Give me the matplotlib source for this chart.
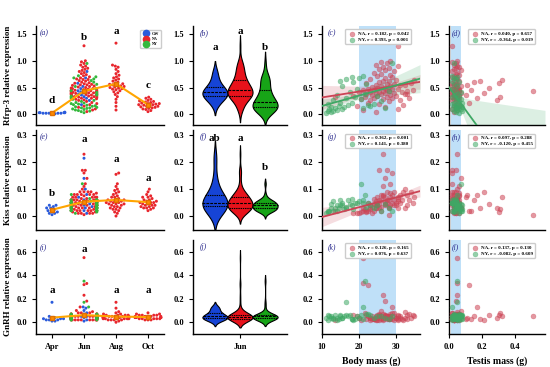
import warnings
import numpy as np
import pandas as pd
import matplotlib
matplotlib.use("Agg")
import matplotlib.pyplot as plt
from matplotlib.lines import Line2D
import seaborn as sns

warnings.filterwarnings("ignore")

months = ["Apr", "Jun", "Aug", "Oct"]
sites = ["GW", "NA", "NY"]

# ---- Rfrp-3 ----
rfrp_apr_gw = [0.03, 0.02, 0.01, 0.03, 0.02, 0.04, 0.02, 0.01, 0.03, 0.02, 0.03, 0.02]
rfrp_jun_gw = [0.18, 0.26, 0.30, 0.33, 0.36, 0.38, 0.40, 0.42, 0.44, 0.48, 0.52, 0.58, 0.68, 0.80]
rfrp_jun_na = [0.05, 0.08, 0.10, 0.13, 0.15, 0.18, 0.20, 0.22, 0.24, 0.26,
               0.27, 0.28, 0.29, 0.30, 0.30, 0.31, 0.32, 0.33, 0.34, 0.34,
               0.35, 0.36, 0.36, 0.37, 0.38, 0.38, 0.39, 0.40, 0.40, 0.41,
               0.41, 0.42, 0.42, 0.43, 0.43, 0.44, 0.45, 0.45, 0.46, 0.47,
               0.48, 0.48, 0.49, 0.50, 0.51, 0.52, 0.53, 0.54, 0.55, 0.56,
               0.57, 0.58, 0.59, 0.60, 0.62, 0.63, 0.65, 0.66, 0.68, 0.70,
               0.72, 0.74, 0.76, 0.78, 0.80, 0.82, 0.84, 0.86, 0.88, 0.90,
               0.92, 0.95, 0.98, 1.00, 0.65, 0.55, 0.45, 0.38, 0.33, 1.28]
rfrp_jun_ny = [0.03, 0.05, 0.06, 0.07, 0.08, 0.09, 0.10, 0.11, 0.12, 0.13,
               0.14, 0.15, 0.16, 0.17, 0.18, 0.19, 0.20, 0.21, 0.22, 0.24,
               0.26, 0.28, 0.30, 0.32, 0.34, 0.36, 0.38, 0.41, 0.44, 0.48,
               0.52, 0.56, 0.60, 0.63, 0.66, 0.68, 0.70, 0.72, 0.95, 0.12]
rfrp_aug_na = [0.08, 0.15, 0.22, 0.28, 0.33, 0.37, 0.40, 0.42, 0.44, 0.46,
               0.47, 0.48, 0.49, 0.50, 0.51, 0.52, 0.53, 0.54, 0.55, 0.56,
               0.57, 0.58, 0.60, 0.62, 0.64, 0.66, 0.68, 0.70, 0.73, 0.76,
               0.80, 0.84, 0.88, 0.90, 0.92, 1.33]
rfrp_oct_na = [0.05, 0.07, 0.09, 0.10, 0.11, 0.12, 0.13, 0.14, 0.15, 0.15,
               0.16, 0.17, 0.18, 0.18, 0.19, 0.20, 0.20, 0.21, 0.22, 0.23,
               0.24, 0.25, 0.26, 0.28, 0.30, 0.32]

# ---- Kiss ----
kiss_apr_gw = [0.005, 0.01, 0.02, 0.03, 0.035, 0.04, 0.02, 0.015, 0.01, 0.025, 0.03, 0.04]
kiss_jun_gw = [0.01, 0.02, 0.03, 0.035, 0.04, 0.045, 0.05, 0.05, 0.06, 0.07, 0.08, 0.10, 0.14, 0.215]
kiss_jun_na = [0.04, 0.02, 0.07, 0.05, 0.01, 0.09, 0.03, 0.02, 0.06, 0.05,
               0.03, 0.23, 0.015, 0.08, 0.06, 0.045, 0.17, 0.025, 0.04, 0.05,
               0.01, 0.07, 0.035, 0.06, 0.10, 0.02, 0.04, 0.09, 0.03, 0.01,
               0.06, 0.17, 0.04, 0.005, 0.08, 0.04, 0.03, 0.06, 0.02, 0.16,
               0.05, 0.03, 0.07, 0.045, 0.01, 0.12, 0.035, 0.08, 0.055, 0.04,
               0.09, 0.015, 0.09, 0.06, 0.03, 0.11, 0.05, 0.025, 0.07, 0.05,
               0.04, 0.085, 0.02, 0.065, 0.06, 0.14, 0.045, 0.035, 0.075, 0.055,
               0.03, 0.05, 0.08, 0.04, 0.07, 0.03, 0.05, 0.08, 0.02, 0.065]
kiss_jun_ny = [0.01, 0.03, 0.02, 0.015, 0.04, 0.02, 0.05, 0.03, 0.06, 0.025,
               0.045, 0.04, 0.03, 0.06, 0.05, 0.02, 0.03, 0.04, 0.065, 0.02,
               0.055, 0.12, 0.035, 0.05, 0.04, 0.02, 0.08, 0.045, 0.03, 0.05,
               0.04, 0.035, 0.025, 0.06, 0.03, 0.055, 0.04, 0.05, 0.02, 0.045]
kiss_aug_na = [0.0, 0.01, 0.02, 0.025, 0.03, 0.03, 0.035, 0.04, 0.04, 0.045,
               0.045, 0.05, 0.05, 0.05, 0.055, 0.055, 0.06, 0.06, 0.065, 0.07,
               0.07, 0.075, 0.08, 0.085, 0.09, 0.095, 0.10, 0.11, 0.12, 0.16,
               0.155, 0.035, 0.025, 0.06, 0.045, 0.015]
kiss_oct_na = [0.02, 0.025, 0.03, 0.03, 0.035, 0.035, 0.04, 0.04, 0.04, 0.045,
               0.045, 0.05, 0.05, 0.05, 0.055, 0.055, 0.06, 0.06, 0.065, 0.07,
               0.07, 0.075, 0.08, 0.09, 0.10, 0.03]

# ---- GnRH ----
gnrh_apr_gw = [0.01, 0.02, 0.03, 0.03, 0.04, 0.02, 0.01, 0.03, 0.05, 0.04, 0.02, 0.17]
gnrh_jun_gw = [0.01, 0.02, 0.03, 0.03, 0.04, 0.04, 0.05, 0.05, 0.06, 0.07, 0.08, 0.10, 0.12, 0.13]
gnrh_jun_na = [0.04, 0.55, 0.03, 0.18, 0.05, 0.02, 0.06, 0.32, 0.03, 0.05,
               0.04, 0.23, 0.02, 0.13, 0.07, 0.03, 0.05, 0.08, 0.04, 0.02,
               0.06, 0.03, 0.05, 0.04, 0.09, 0.03, 0.06, 0.02, 0.05, 0.04,
               0.03, 0.07, 0.04, 0.05, 0.02, 0.06, 0.33, 0.04, 0.03, 0.08,
               0.05, 0.02, 0.04, 0.06, 0.03, 0.05, 0.10, 0.04, 0.02, 0.05,
               0.03, 0.06, 0.04, 0.05, 0.03, 0.07, 0.04, 0.02, 0.05, 0.03,
               0.06, 0.04, 0.05, 0.03, 0.08, 0.04, 0.02, 0.05, 0.03, 0.06,
               0.04, 0.05, 0.03, 0.07, 0.05, 0.04, 0.06, 0.03, 0.02, 0.05]
gnrh_jun_ny = [0.04, 0.05, 0.03, 0.06, 0.02, 0.05, 0.04, 0.06, 0.03, 0.05,
               0.04, 0.06, 0.03, 0.05, 0.07, 0.02, 0.04, 0.06, 0.03, 0.05,
               0.04, 0.06, 0.17, 0.03, 0.05, 0.04, 0.35, 0.06, 0.03, 0.05,
               0.04, 0.07, 0.02, 0.05, 0.06, 0.04, 0.03, 0.13, 0.05, 0.04]
gnrh_aug_na = [0.0, 0.01, 0.02, 0.02, 0.03, 0.03, 0.03, 0.04, 0.04, 0.04,
               0.04, 0.05, 0.05, 0.05, 0.05, 0.06, 0.06, 0.06, 0.07, 0.07,
               0.08, 0.09, 0.12, 0.17, 0.03, 0.04, 0.05, 0.02, 0.03, 0.04,
               0.05, 0.06, 0.02, 0.03, 0.04, 0.05]
gnrh_oct_na = [0.02, 0.02, 0.03, 0.03, 0.03, 0.03, 0.04, 0.04, 0.04, 0.04,
               0.04, 0.05, 0.05, 0.05, 0.05, 0.06, 0.06, 0.06, 0.07, 0.07,
               0.08, 0.03, 0.04, 0.05, 0.02, 0.06]

# ---- body / testis mass of the June animals ----
na_body = [24.5, 21.0, 30.5, 27.0, 19.5, 32.0, 25.5, 22.5, 28.0, 31.0,
           23.0, 26.5, 20.5, 29.0, 33.5, 24.0, 27.5, 21.5, 30.0, 25.0,
           18.5, 28.5, 23.5, 26.0, 32.5, 22.0, 27.0, 29.5, 24.5, 20.0,
           31.5, 25.5, 23.0, 28.0, 26.5, 33.0, 21.0, 27.5, 24.0, 29.0,
           22.5, 30.5, 25.0, 27.0, 23.5, 28.5, 26.0, 31.0, 24.5, 29.5,
           27.5, 22.0, 34.0, 25.5, 28.0, 26.5, 30.0, 23.0, 27.0, 29.0,
           25.0, 28.5, 26.0, 24.0, 29.5, 27.0, 25.5, 28.0, 26.5, 30.5,
           24.5, 27.5, 26.0, 28.5, 35.0, 32.5, 34.5, 33.0, 13.5, 30.5]
na_testis = [0.03, 0.05, 0.02, 0.04, 0.06, 0.03, 0.05, 0.12, 0.04, 0.02,
             0.29, 0.05, 0.03, 0.17, 0.06, 0.04, 0.02, 0.31, 0.05, 0.03,
             0.04, 0.10, 0.06, 0.03, 0.05, 0.02, 0.04, 0.21, 0.07, 0.03,
             0.05, 0.04, 0.02, 0.51, 0.06, 0.03, 0.05, 0.04, 0.13, 0.02,
             0.06, 0.03, 0.05, 0.24, 0.04, 0.02, 0.07, 0.11, 0.03, 0.05,
             0.04, 0.30, 0.02, 0.15, 0.19, 0.06, 0.03, 0.05, 0.04, 0.02,
             0.03, 0.06, 0.04, 0.05, 0.02, 0.07, 0.03, 0.04, 0.06, 0.05,
             0.03, 0.04, 0.02, 0.05, 0.32, 0.04, 0.06, 0.03, 0.05, 0.02]
ny_body = [11.0, 12.5, 13.0, 11.5, 14.0, 12.0, 15.5, 13.5, 21.0, 16.0,
           12.5, 23.0, 14.5, 17.0, 22.5, 11.5, 24.0, 15.0, 18.0, 26.0,
           13.0, 20.5, 16.5, 19.0, 25.0, 14.0, 21.5, 17.5, 28.0, 19.5,
           15.5, 22.0, 18.5, 15.0, 16.5, 20.0, 18.0, 21.0, 29.0, 27.0]
ny_testis = [0.06, 0.04, 0.08, 0.03, 0.05, 0.07, 0.02, 0.06, 0.04, 0.08,
             0.05, 0.03, 0.07, 0.04, 0.06, 0.02, 0.05, 0.08, 0.03, 0.06,
             0.04, 0.07, 0.05, 0.02, 0.06, 0.03, 0.05, 0.07, 0.04, 0.02,
             0.05, 0.03, 0.06, 0.02, 0.04, 0.03, 0.05, 0.02, 0.03, 0.04]

gene_labels = ["Rfrp-3 relative expression", "Kiss relative expression", "GnRH relative expression"]
panel_tags = [["(a)", "(b)", "(c)", "(d)"], ["(e)", "(f)", "(g)", "(h)"], ["(i)", "(j)", "(k)", "(l)"]]
swarm_letters = [[("d", 0.26), ("b", 1.44), ("a", 1.54), ("c", 0.54)],
                 [("b", 0.085), ("a", 0.285), ("a", 0.21), ("a", 0.14)],
                 [("a", 0.27), ("a", 0.62), ("a", 0.27), ("a", 0.27)]]
violin_letters = [[("a", 1.24), ("a", 1.54), ("b", 1.24)],
                  [("ab", 0.29), ("a", 0.29), ("b", 0.18)],
                  []]
body_stats = [["NA, r = 0.182, p = 0.042", "NY, r = 0.393, p = 0.001"],
              ["NA, r = 0.362, p = 0.001", "NY, r = 0.141, p = 0.380"],
              ["NA, r = 0.126, p = 0.165", "NY, r = 0.076, p = 0.637"]]
testis_stats = [["NA, r = 0.040, p = 0.657", "NY, r = -0.364, p = 0.019"],
                ["NA, r = 0.097, p = 0.288", "NY, r = -0.120, p = 0.455"],
                ["NA, r = 0.137, p = 0.130", "NY, r = -0.082, p = 0.609"]]
# which fitted lines are drawn: (row, col) -> sites
fits = {(0, 2): ["NA", "NY"], (0, 3): ["NY"], (1, 2): ["NA"]}

site_colors = {"GW": "#2a5bdc", "NA": "#e8262d", "NY": "#34b83c"}
violin_colors = {"GW": "#1644d6", "NA": "#e8121b", "NY": "#17a417"}
sc_colors = {"NA": "#cc4455", "NY": "#3fa865"}
shade = "#bfe0f8"

plt.rcParams.update({
    "font.family": "serif",
    "font.serif": ["Liberation Serif", "DejaVu Serif"],
    "font.weight": "bold",
    "axes.labelweight": "bold",
    "axes.linewidth": 1.0,
    "xtick.labelsize": 6,
    "ytick.labelsize": 6,
    "xtick.major.size": 3,
    "ytick.major.size": 3,
    "xtick.major.width": 0.8,
    "ytick.major.width": 0.8,
})


def frame(apr_gw, jun_gw, jun_na, jun_ny, aug_na, oct_na):
    parts = [("Apr", "GW", apr_gw), ("Jun", "GW", jun_gw), ("Jun", "NA", jun_na),
             ("Jun", "NY", jun_ny), ("Aug", "NA", aug_na), ("Oct", "NA", oct_na)]
    recs = [(m, s, v) for m, s, vals in parts for v in vals]
    return pd.DataFrame(recs, columns=["month", "site", "value"])


genes = [
    frame(rfrp_apr_gw, rfrp_jun_gw, rfrp_jun_na, rfrp_jun_ny, rfrp_aug_na, rfrp_oct_na),
    frame(kiss_apr_gw, kiss_jun_gw, kiss_jun_na, kiss_jun_ny, kiss_aug_na, kiss_oct_na),
    frame(gnrh_apr_gw, gnrh_jun_gw, gnrh_jun_na, gnrh_jun_ny, gnrh_aug_na, gnrh_oct_na),
]
june_na = [rfrp_jun_na, kiss_jun_na, gnrh_jun_na]
june_ny = [rfrp_jun_ny, kiss_jun_ny, gnrh_jun_ny]

ylims = [(-0.2, 1.65), (-0.052, 0.32), (-0.1, 0.7)]
yticks = [[0, 0.5, 1.0, 1.5], [0, 0.1, 0.2, 0.3], [0, 0.2, 0.4, 0.6]]

W, H = 550, 367
col_px = [(36, 164), (193, 287), (322, 420), (449, 545)]
row_px = [(26, 125), (130, 230), (240, 334)]


def rect(c, r):
    l, rr = col_px[c]
    t, b = row_px[r]
    return [l / W, 1 - b / H, (rr - l) / W, (b - t) / H]


def swarm(ax, df, diam=3.0, half=0.4):
    """simple beeswarm in pixel space, overflowing points go to the gutters"""
    t = ax.transData
    ux = t.transform((1, 0))[0] - t.transform((0, 0))[0]
    vals = df["value"].to_numpy(float)
    cats = df["month"].to_numpy()
    xpos = np.zeros(len(df))
    for i, m in enumerate(months):
        idx = np.where(cats == m)[0]
        py = t.transform(np.column_stack([np.full(len(idx), i), vals[idx]]))[:, 1]
        px_placed, py_placed = [], []
        offs = np.zeros(len(idx))
        for j in np.argsort(py, kind="stable"):
            y = py[j]
            pxa = np.array(px_placed)
            pya = np.array(py_placed)
            cands = [0.0]
            if len(pxa):
                near = np.abs(pya - y) < diam
                dx = np.sqrt(diam ** 2 - (pya[near] - y) ** 2)
                cands += list(pxa[near] + dx) + list(pxa[near] - dx)
                nx, ny = pxa[near], pya[near]
            else:
                nx = ny = np.array([])
            cands = sorted(cands, key=lambda v: (abs(v), -v))
            best = cands[-1]
            for cnd in cands:
                if len(nx) == 0 or np.all((nx - cnd) ** 2 + (ny - y) ** 2 >= diam ** 2 - 1e-6):
                    best = cnd
                    break
            px_placed.append(best)
            py_placed.append(y)
            offs[j] = best
        offs = np.clip(offs, -half * ux, half * ux)
        xpos[idx] = i + offs / ux
    cols = [site_colors[s] for s in df["site"]]
    ax.scatter(xpos, vals, c=cols, s=(diam * 0.72) ** 2, lw=0, zorder=3)


def fit_band(ax, x, y, color, xlim):
    x = np.asarray(x, float)
    y = np.asarray(y, float)
    n = len(x)
    slope, icpt = np.polyfit(x, y, 1)
    xs = np.linspace(xlim[0], xlim[1], 100)
    yh = icpt + slope * xs
    s = np.sqrt(np.sum((y - (icpt + slope * x)) ** 2) / (n - 2))
    se = s * np.sqrt(1 / n + (xs - x.mean()) ** 2 / np.sum((x - x.mean()) ** 2))
    ax.fill_between(xs, yh - 1.98 * se, yh + 1.98 * se, color=color, alpha=0.18, lw=0, zorder=2)
    ax.plot(xs, yh, color=color, lw=1.3, zorder=4)


fig = plt.figure(figsize=(5.5, 3.67), dpi=100)
tag_x = [0.03, 0.07, 0.06, 0.03]

for r in range(3):
    df = genes[r]
    axes = [fig.add_axes(rect(c, r)) for c in range(4)]
    for ax in axes:
        ax.set_ylim(*ylims[r])

    # month swarm
    ax = axes[0]
    ax.set_xlim(-0.5, 3.5)
    swarm(ax, df)
    means = df.groupby("month")["value"].mean().reindex(months)
    ax.plot(range(len(months)), means.values, color="#ffa500", lw=1.5,
            marker="s", ms=3, mfc="#ff8c00", mec="#e07000", zorder=5)
    ax.set_xticks(range(len(months)))
    ax.set_xticklabels(months)
    for i, (txt, yy) in enumerate(swarm_letters[r]):
        ax.text(i, yy, txt, ha="center", va="center", fontsize=8, fontweight="bold")
    ax.set_ylabel(gene_labels[r], fontsize=6.5, labelpad=3)
    if r == 0:
        handles = [Line2D([], [], marker="o", ls="", color=site_colors[s], ms=4.5) for s in sites]
        ax.legend(handles, sites, loc="upper right", fontsize=3, frameon=True,
                  edgecolor="#cccccc", framealpha=1, borderpad=0.4,
                  handletextpad=0.3, labelspacing=0.3, bbox_to_anchor=(0.99, 0.98))

    # June violins
    ax = axes[1]
    jun = df[df["month"] == "Jun"]
    sns.violinplot(data=jun, x="month", y="value", hue="site", hue_order=sites,
                   palette=violin_colors, inner="quart", linewidth=0.8,
                   linecolor="black", density_norm="width", saturation=1,
                   ax=ax, legend=False)
    ax.set_xlim(-0.5, 0.5)
    offs = [-0.267, 0, 0.267]
    for (txt, yy), dx in zip(violin_letters[r], offs):
        ax.text(dx, yy, txt, ha="center", va="center", fontsize=8, fontweight="bold")

    # body mass / testis mass scatter
    stats = [body_stats[r], testis_stats[r]]
    xs_na = [na_body, na_testis]
    xs_ny = [ny_body, ny_testis]
    xlims = [(10, 36.5), (0.0, 0.58)]
    spans = [(20, 30), (0.01, 0.075)]
    for k in range(2):
        ax = axes[2 + k]
        ax.axvspan(*spans[k], color=shade, lw=0, zorder=0)
        ax.scatter(xs_na[k], june_na[r], s=13, color=sc_colors["NA"], alpha=0.55,
                   lw=0.3, edgecolors=sc_colors["NA"], label=stats[k][0], zorder=3)
        ax.scatter(xs_ny[k], june_ny[r], s=13, color=sc_colors["NY"], alpha=0.55,
                   lw=0.3, edgecolors=sc_colors["NY"], label=stats[k][1], zorder=3)
        for s in fits.get((r, 2 + k), []):
            xv = xs_na[k] if s == "NA" else xs_ny[k]
            yv = june_na[r] if s == "NA" else june_ny[r]
            fit_band(ax, xv, yv, sc_colors[s], xlims[k])
        ax.set_xlim(*xlims[k])
        ax.legend(loc="upper right", fontsize=3.6, frameon=True, edgecolor="#cccccc",
                  framealpha=1, borderpad=0.4, handletextpad=0.2, labelspacing=0.3,
                  bbox_to_anchor=(0.93 if k == 0 else 0.92, 0.99))

    for c, ax in enumerate(axes):
        ax.set_ylim(*ylims[r])
        ax.set_yticks(yticks[r])
        ax.set_yticklabels([f"{v:.1f}" for v in yticks[r]])
        ax.spines["top"].set_visible(False)
        ax.spines["right"].set_visible(False)
        if c > 0:
            ax.set_ylabel("")
        ax.set_xlabel("")
        ax.text(tag_x[c], 0.97, panel_tags[r][c], transform=ax.transAxes, ha="left",
                va="top", fontsize=5.5, fontstyle="italic", fontweight="normal",
                color="#2a2a8c", zorder=6)
        if r < 2:
            ax.tick_params(axis="x", bottom=False, labelbottom=False)

    if r == 2:
        axes[2].set_xticks([10, 20, 30])
        axes[3].set_xticks([0.0, 0.2, 0.4])
        axes[3].set_xticklabels(["0.0", "0.2", "0.4"])
        axes[2].set_xlabel("Body mass (g)", fontsize=7)
        axes[3].set_xlabel("Testis mass (g)", fontsize=7)

fig.savefig("out.png", dpi=100)
